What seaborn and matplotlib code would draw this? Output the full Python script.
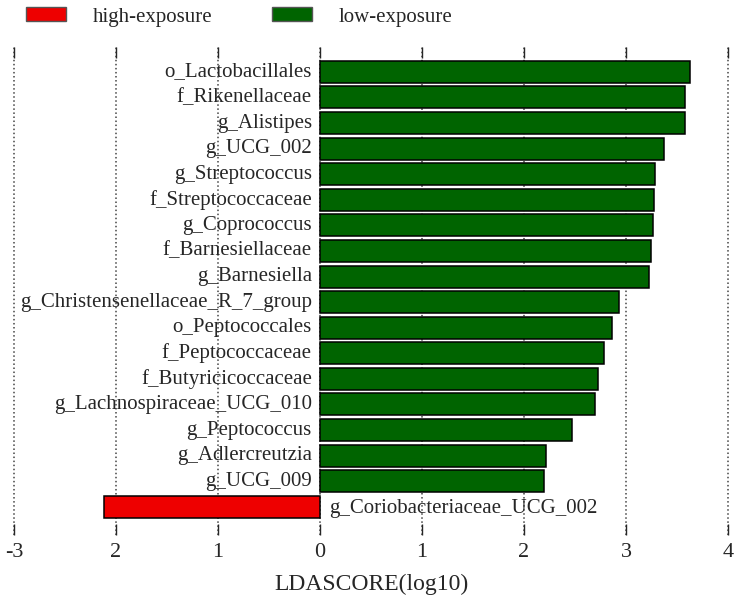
import numpy as np
import pandas as pd
import matplotlib
matplotlib.use("Agg")
import matplotlib.pyplot as plt
import seaborn as sns
from matplotlib.patches import Patch

# ===============================
# DATA
# ===============================
taxa = [
    "o_Lactobacillales", "f_Rikenellaceae", "g_Alistipes", "g_UCG_002",
    "g_Streptococcus", "f_Streptococcaceae", "g_Coprococcus",
    "f_Barnesiellaceae", "g_Barnesiella", "g_Christensenellaceae_R_7_group",
    "o_Peptococcales", "f_Peptococcaceae", "f_Butyricicoccaceae",
    "g_Lachnospiraceae_UCG_010", "g_Peptococcus", "g_Adlercreutzia",
    "g_UCG_009", "g_Coriobacteriaceae_UCG_002",
]
lda = [3.63, 3.58, 3.58, 3.37, 3.28, 3.27, 3.26, 3.25, 3.23, 2.93,
       2.86, 2.78, 2.73, 2.70, 2.47, 2.22, 2.20, -2.12]
group = ["low-exposure"] * 17 + ["high-exposure"]

groups = ["high-exposure", "low-exposure"]
colors = ["#ee0000", "#006400"]

tick_pos = [-3, -2, -1, 0, 1, 2, 3, 4]
tick_lab = ["-3", "2", "1", "0", "1", "2", "3", "4"]

df = pd.DataFrame({"taxon": taxa, "lda": lda, "group": group})

# ===============================
# PLOT
# ===============================
sns.set_style("white")
plt.rcParams["font.family"] = ["Liberation Serif", "DejaVu Serif"]

fig = plt.figure(figsize=(7.4, 5.98), dpi=100)
ax = fig.add_axes([13 / 740, 63 / 598, 716 / 740, 488 / 598])

pal = dict(zip(groups, colors))
sns.barplot(data=df, x="lda", y="taxon", hue="group", palette=pal,
            saturation=1, dodge=False, orient="h", width=0.86,
            edgecolor="black", linewidth=1.1, legend=False, ax=ax, zorder=3)

for i, (name, val) in enumerate(zip(taxa, lda)):
    if val >= 0:
        ax.text(-0.08, i, name, ha="right", va="center", fontsize=15)
    else:
        ax.text(0.09, i + 0.08, name, ha="left", va="center", fontsize=15)

ax.set_xlim(-3.01, 4.01)
ax.set_ylim(len(taxa) + 0.1, -0.97)
ax.set_xticks(tick_pos)
ax.set_xticklabels(tick_lab, fontsize=16)
ax.set_yticks([])
ax.set_ylabel("")
ax.set_xlabel("LDASCORE(log10)", fontsize=17, labelpad=8)
ax.xaxis.grid(True, linestyle=":", color="#444444", linewidth=1.1, zorder=0)
ax.set_axisbelow(True)
ax.tick_params(axis="x", direction="in", top=True, bottom=True,
               length=8, width=1, pad=6)
for s in ax.spines.values():
    s.set_visible(False)

handles = [Patch(facecolor=c, edgecolor="#555555", label=g)
           for g, c in zip(groups, colors)]
fig.legend(handles=handles, loc="upper left", bbox_to_anchor=(19 / 740, 1.0),
           ncol=2, frameon=False, fontsize=15, borderpad=0.35,
           borderaxespad=0, handlelength=1.92, handleheight=0.65,
           handletextpad=1.25, columnspacing=2.9)

plt.savefig("out.png", dpi=100)
